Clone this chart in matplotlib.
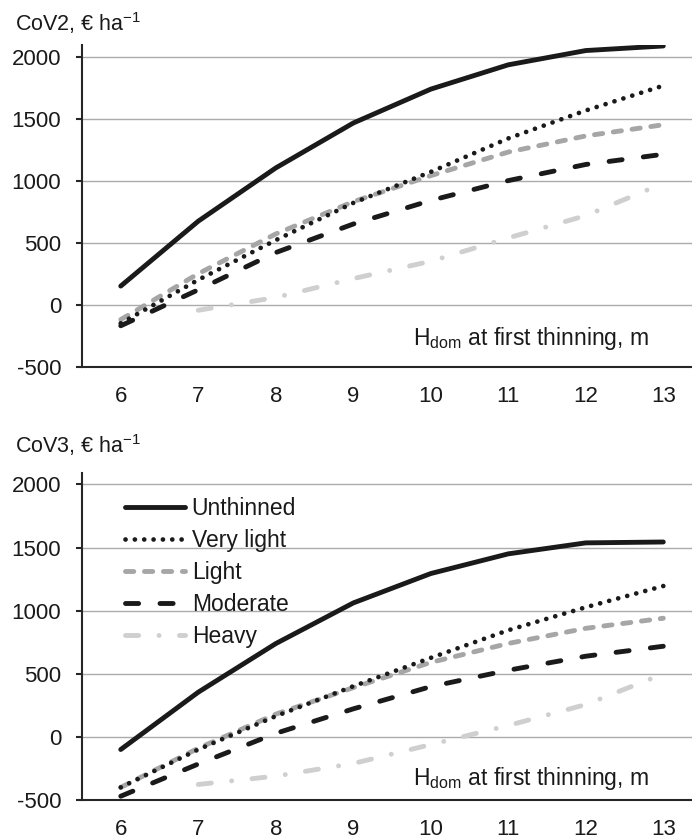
import numpy as np
import matplotlib
matplotlib.use('Agg')
import matplotlib.pyplot as plt

plt.rcParams['font.family'] = ['Liberation Sans', 'DejaVu Sans']
plt.rcParams['axes.unicode_minus'] = False

hdom = [6, 7, 8, 9, 10, 11, 12, 13]
series = ['Unthinned', 'Very light', 'Light', 'Moderate', 'Heavy']

# CoV2, EUR/ha
cov2_unthinned = [150, 673, 1102, 1464, 1737, 1933, 2048, 2085]
cov2_very_light = [-150, 200, 520, 820, 1070, 1340, 1565, 1765]
cov2_light = [-120, 250, 570, 830, 1040, 1230, 1360, 1450]
cov2_moderate = [-170, 120, 420, 650, 840, 1000, 1130, 1212]
cov2_heavy = [np.nan, -45, 58, 210, 350, 538, 718, 978]

# CoV3, EUR/ha
cov3_unthinned = [-100, 354, 739, 1061, 1294, 1450, 1537, 1544]
cov3_very_light = [-400, -100, 164, 401, 626, 845, 1027, 1195]
cov3_light = [-400, -90, 180, 390, 590, 740, 860, 940]
cov3_moderate = [-470, -215, 28, 222, 398, 528, 639, 718]
cov3_heavy = [np.nan, -377, -311, -211, -61, 90, 256, 499]

yticks = [-500, 0, 500, 1000, 1500, 2000]

# style per series: color, width, dashes (None = solid)
styles = {
    'Unthinned': dict(color='#1a1a1a', lw=3.5, dashes=None, z=3),
    'Very light': dict(color='#1a1a1a', lw=3.4, dashes=(0.01, 1.97), z=5),
    'Light': dict(color='#a6a6a6', lw=3.5, dashes=(1.7, 2.2), z=4),
    'Moderate': dict(color='#1a1a1a', lw=3.5, dashes=(2.7, 4.4), z=6),
    'Heavy': dict(color='#cfcfcf', lw=3.5, dashes=(2.7, 4.2, 0.01, 4.2), z=2),
}

fig = plt.figure(figsize=(6.92, 8.39), dpi=100)
ax_top = fig.add_axes([0.1185, 0.5629, 0.896, 0.3835])
ax_bot = fig.add_axes([0.1185, 0.0465, 0.896, 0.3901])

panels = [
    (ax_top, [cov2_unthinned, cov2_very_light, cov2_light, cov2_moderate, cov2_heavy], 0.089),
    (ax_bot, [cov3_unthinned, cov3_very_light, cov3_light, cov3_moderate, cov3_heavy], 0.067),
]

for ax, data, ylab_y in panels:
    for name, vals in zip(series, data):
        st = styles[name]
        line, = ax.plot(hdom, vals, color=st['color'], lw=st['lw'], label=name,
                        zorder=st['z'], solid_capstyle='round',
                        dash_capstyle='round')
        if st['dashes'] is not None:
            line.set_dashes(st['dashes'])
    ax.set_xlim(5.5, 13.5)
    ax.set_ylim(-500, 2093)
    ax.set_xticks(hdom)
    ax.set_yticks(yticks)
    for y in yticks[1:]:
        ax.axhline(y, color='#ababab', lw=1.0, zorder=1)
    for s in ['top', 'right']:
        ax.spines[s].set_visible(False)
    for s in ['left', 'bottom']:
        ax.spines[s].set_color('#262626')
        ax.spines[s].set_linewidth(1.5)
    ax.tick_params(axis='x', length=0, pad=14, labelsize=16, colors='#1a1a1a')
    ax.tick_params(axis='y', length=4, width=1.5, color='#262626', pad=11,
                   labelsize=16, labelcolor='#1a1a1a')
    ax.text(0.534, ylab_y, r'$\mathregular{H_{dom}}$ at first thinning, m',
            transform=ax.transAxes, fontsize=16.5, va='center', ha='left',
            color='#1a1a1a')

fig.text(0.022, 0.9726, r'CoV2, € $\mathregular{ha^{-1}}$', fontsize=15.5,
         va='center', ha='left', color='#1a1a1a')
fig.text(0.022, 0.4696, r'CoV3, € $\mathregular{ha^{-1}}$', fontsize=15.5,
         va='center', ha='left', color='#1a1a1a')

leg = ax_bot.legend(loc='upper left', bbox_to_anchor=(0.055, 0.955), frameon=False,
                    fontsize=16.5, handlelength=2.6, handletextpad=0.3,
                    labelspacing=0.4, borderaxespad=0)
for t in leg.get_texts():
    t.set_color('#1a1a1a')

fig.savefig('out.png', dpi=100)
